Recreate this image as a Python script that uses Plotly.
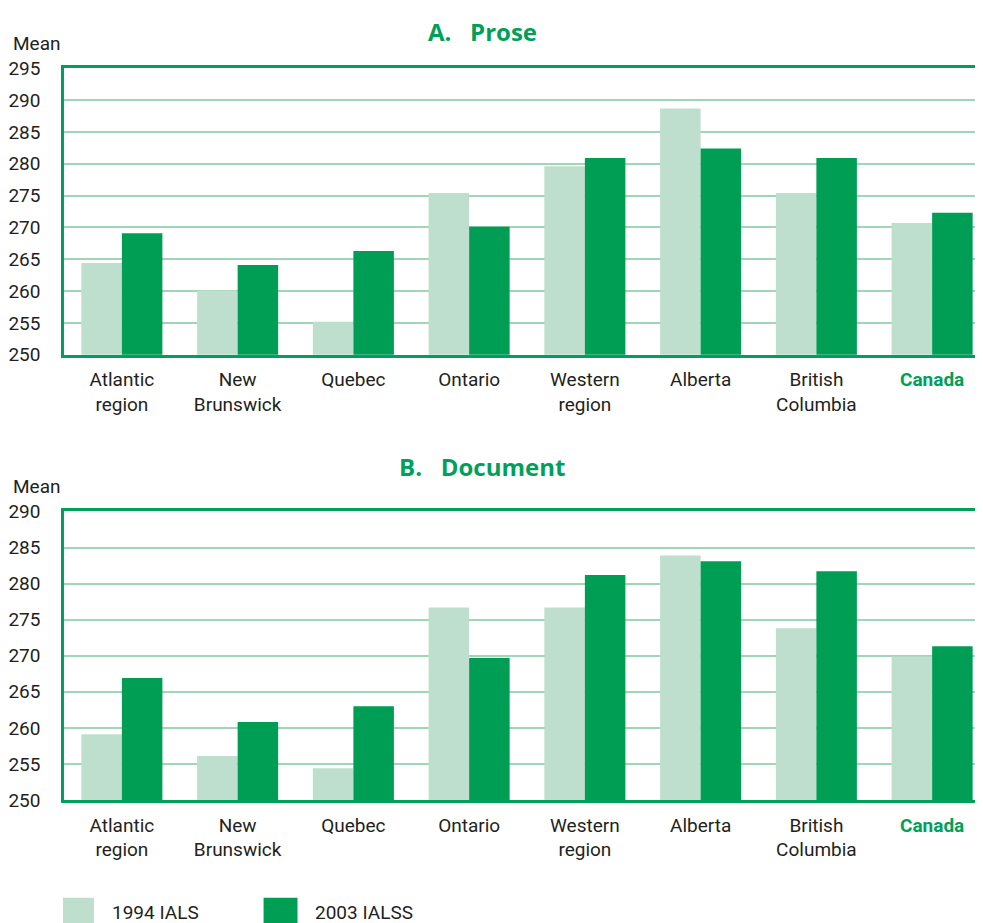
import plotly.graph_objects as go
from plotly.subplots import make_subplots

# Data
regions = ['Atlantic<br>region', 'New<br>Brunswick', 'Quebec', 'Ontario', 'Western<br>region',
           'Alberta', 'British<br>Columbia', 'Canada']
region_labels = regions[:-1] + ["<b><span style='color:#00a05a'>Canada</span></b>"]

prose_1994 = [264.4, 260.1, 255.2, 275.4, 279.6, 288.7, 275.4, 270.7]
prose_2003 = [269.1, 264.1, 266.3, 270.1, 280.9, 282.4, 280.9, 272.3]
doc_1994 = [259.1, 256.1, 254.4, 276.7, 276.7, 283.9, 273.8, 269.9]
doc_2003 = [266.9, 260.8, 263.0, 269.7, 281.2, 283.1, 281.7, 271.3]

prose_ticks = list(range(250, 300, 5))
doc_ticks = list(range(250, 295, 5))

LIGHT = '#bedfcd'
DARK = '#009d55'
GREEN = '#00a05a'
GRID = '#a0d5b7'
TEXT = '#231f20'
FONT = 'Liberation Sans Narrow, Roboto, Arial, sans-serif'

# page offsets / vertical scale seen in the rendered snapshot
DX, DY, S = 8, 18, 0.977
W, H = 982, 927
LEFT = 62 - DX


def px(x):
    return (x - DX - LEFT) / (W - LEFT)


def py(y):
    return 1 - (y / S - DY) / H


fig = make_subplots(rows=2, cols=1)

for row, (a, b) in enumerate([(prose_1994, prose_2003), (doc_1994, doc_2003)], start=1):
    fig.add_trace(go.Bar(x=regions, y=a, name='1994 IALS', marker=dict(color=LIGHT, line_width=0),
                         showlegend=False), row=row, col=1)
    fig.add_trace(go.Bar(x=regions, y=b, name='2003 IALSS', marker=dict(color=DARK, line_width=0),
                         showlegend=False), row=row, col=1)

xcommon = dict(
    tickmode='array', tickvals=regions, ticktext=region_labels,
    showline=True, linecolor=GREEN, linewidth=2.5, mirror=True,
    showgrid=False, ticks='', ticklabelstandoff=6,
    tickfont=dict(family=FONT, size=19, color=TEXT),
    domain=[0, 1],
)
ycommon = dict(
    showline=True, linecolor=GREEN, linewidth=2.5,
    showgrid=True, gridcolor=GRID, gridwidth=2,
    ticks='', ticklabelstandoff=17,
    tickfont=dict(family=FONT, size=19, color=TEXT),
    zeroline=False,
)

fig.update_layout(
    xaxis=xcommon,
    xaxis2=xcommon,
    yaxis=dict(ycommon, range=[250, 295], tickvals=prose_ticks, domain=[py(354), py(67)]),
    yaxis2=dict(ycommon, range=[250, 290], tickvals=doc_ticks, domain=[py(800), py(511)]),
    barmode='group', bargap=0.3, bargroupgap=0,
    width=W, height=H,
    margin=dict(l=LEFT, r=0, t=0, b=0),
    plot_bgcolor='white', paper_bgcolor='white',
    showlegend=False,
)

title_font = dict(family='Open Sans, Lato, sans-serif', size=24, color=GREEN)
mean_font = dict(family=FONT, size=19, color=TEXT)

annotations = []
for text, yy in (('<b>A.   Prose</b>', 30), ('<b>B.   Document</b>', 466)):
    annotations.append(dict(text=text, xref='paper', yref='paper', x=px(481), y=py(yy),
                            xanchor='center', yanchor='middle', showarrow=False, font=title_font))

for yy in (42, 486):
    annotations.append(dict(text='Mean', xref='paper', yref='paper', x=px(9), y=py(yy),
                            xanchor='left', yanchor='middle', showarrow=False, font=mean_font))

# legend swatches and labels
legend_items = [(61, 92, LIGHT, '1994 IALS', 108), (262, 296, DARK, '2003 IALSS', 312)]
shapes = []
for x0, x1, col, label, tx in legend_items:
    shapes.append(dict(type='rect', xref='paper', yref='paper',
                       x0=px(x0), x1=px(x1), y0=0, y1=py(898),
                       fillcolor=col, line=dict(width=0)))
    annotations.append(dict(text=label, xref='paper', yref='paper', x=px(tx), y=py(913),
                            xanchor='left', yanchor='middle', showarrow=False, font=mean_font))

fig.update_layout(annotations=annotations, shapes=shapes)

fig.write_html('out.html')
